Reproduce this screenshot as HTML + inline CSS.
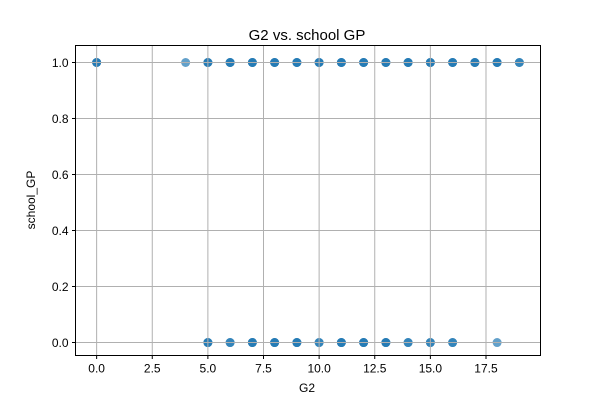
<!DOCTYPE html>
<html><head><meta charset="utf-8"><style>
body{margin:0;background:#fff;}
svg{display:block;font-family:"Liberation Sans","DejaVu Sans",sans-serif;}
</style></head><body>
<svg id="chart" width="600" height="400">
<rect width="600" height="400" fill="#fff"/>
<text x="307" y="40" text-anchor="middle" font-size="15">G2 vs. school GP</text>
<g id="pts"></g>
<g id="grid"></g>
<rect x="75.5" y="45.5" width="465" height="310" fill="none" stroke="#000" stroke-width="1"/>
<g id="ticks"></g>
<text x="307" y="392" text-anchor="middle" font-size="12">G2</text>
<text transform="translate(35,200) rotate(-90)" text-anchor="middle" font-size="12">school_GP</text>
</svg>
<script>
const topX=[0,4,5,6,7,8,9,10,11,12,13,14,15,16,17,18,19];
const topCount=[3,1,3,3,3,3,3,3,3,3,3,3,3,3,3,3,2];
const botX=[5,6,7,8,9,10,11,12,13,14,15,16,18];
const botCount=[3,2,3,3,3,2,3,3,3,2,2,2,1];
const xTicks=[0,2.5,5,7.5,10,12.5,15,17.5];
const xTickLabels=["0.0","2.5","5.0","7.5","10.0","12.5","15.0","17.5"];
const yTicks=[0,0.2,0.4,0.6,0.8,1.0];
const yTickLabels=["0.0","0.2","0.4","0.6","0.8","1.0"];
const NS="http://www.w3.org/2000/svg";
const L=75.5,R=540.5,T=45.5,B=355.5,xmin=-0.95,xmax=19.95,ymin=-0.0464,ymax=1.0607;
function sx(v){return L+(v-xmin)/(xmax-xmin)*(R-L);}
function sy(v){return B-(v-ymin)/(ymax-ymin)*(B-T);}
function mk(t,a){const e=document.createElementNS(NS,t);for(const k in a)e.setAttribute(k,a[k]);return e;}
const pts=document.getElementById('pts'),grid=document.getElementById('grid'),ticks=document.getElementById('ticks');
function drawSeries(xs,cs,y){xs.forEach((x,i)=>{for(let j=0;j<cs[i];j++){const c=mk('circle',{cx:sx(x),cy:sy(y),r:4.5,fill:'#1f77b4','fill-opacity':0.7});


pts.appendChild(c);}});}
drawSeries(topX,topCount,1);
drawSeries(botX,botCount,0);
xTicks.forEach((v,i)=>{const x=sx(v);
const g=mk('line',{x1:x,x2:x,y1:T,y2:B,stroke:'#b0b0b0','stroke-width':1});


grid.appendChild(g);
ticks.appendChild(mk('line',{x1:x,x2:x,y1:B,y2:B+3.5,stroke:'#000'}));
const t=mk('text',{x:x,y:B+17,'text-anchor':'middle','font-size':12});t.textContent=xTickLabels[i];


ticks.appendChild(t);});
yTicks.forEach((v,i)=>{const y=sy(v);
const g=mk('line',{x1:L,x2:R,y1:y,y2:y,stroke:'#b0b0b0','stroke-width':1});


grid.appendChild(g);
ticks.appendChild(mk('line',{x1:L-3.5,x2:L,y1:y,y2:y,stroke:'#000'}));
const t=mk('text',{x:L-7,y:y+4.5,'text-anchor':'end','font-size':12});t.textContent=yTickLabels[i];


ticks.appendChild(t);});
</script>
</body></html>
